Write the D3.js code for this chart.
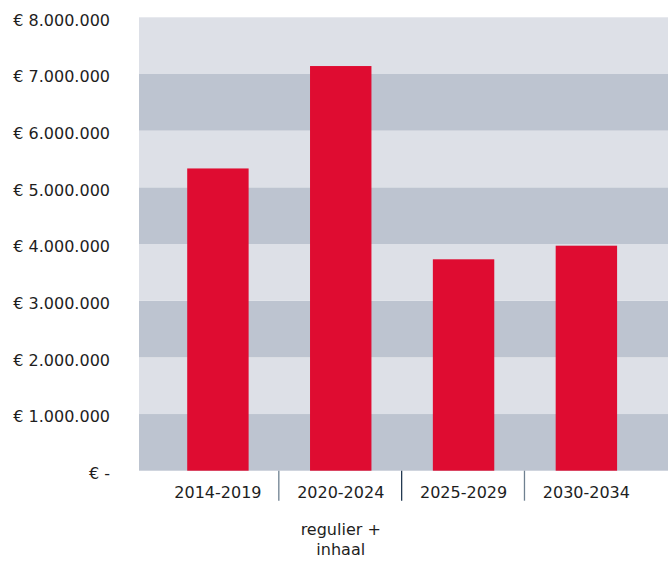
<!DOCTYPE html>
<html>
<head>
<meta charset="utf-8">
<script src="https://cdn.jsdelivr.net/npm/d3@7"></script>
<style>
  body { margin: 0; background: #fff; }
  text { font-family: "DejaVu Sans", sans-serif; fill: #1e1e1e; }
</style>
</head>
<body>
<main></main>
<script>
// chart data
const periods = ["2014-2019", "2020-2024", "2025-2029", "2030-2034"];
const amounts = [5333000, 7140000, 3730000, 3970000];
const subLabels = [null, ["regulier +", "inhaal"], null, null];
const yTicks = [0, 1000000, 2000000, 3000000, 4000000, 5000000, 6000000, 7000000, 8000000];
const yTickLabels = ["€ -", "€ 1.000.000", "€ 2.000.000", "€ 3.000.000", "€ 4.000.000",
                     "€ 5.000.000", "€ 6.000.000", "€ 7.000.000", "€ 8.000.000"];

const svgSize = { width: 668, height: 562 };
const plot = { left: 139, right: 668, top: 17.3, bottom: 470.7 };

const svg = d3.select("main")
  .append("svg")
  .attr("width", svgSize.width)
  .attr("height", svgSize.height);

const yScale = d3.scaleLinear()
  .domain([0, 8000000])
  .range([plot.bottom, plot.top]);

const xScale = d3.scaleBand()
  .domain(periods)
  .range([156.5, 647.8])
  .paddingInner(0)
  .paddingOuter(0);

// alternating bands
const bands = d3.pairs(yTicks);
svg.append("g")
  .selectAll("rect")
  .data(bands)
  .enter()
  .append("rect")
  .attr("x", plot.left)
  .attr("width", plot.right - plot.left)
  .attr("y", d => yScale(d[1]))
  .attr("height", d => yScale(d[0]) - yScale(d[1]))
  .attr("fill", (d, i) => i % 2 === 0 ? "#bdc4d0" : "#dde0e7");

// bars
const barW = xScale.bandwidth() * 0.5;
svg.append("g")
  .selectAll("rect")
  .data(amounts)
  .enter()
  .append("rect")
  .attr("x", (d, i) => xScale(periods[i]) + (xScale.bandwidth() - barW) / 2)
  .attr("width", barW)
  .attr("y", d => yScale(d))
  .attr("height", d => yScale(0) - yScale(d))
  .attr("fill", "#df0c31");

// y labels
svg.append("g")
  .selectAll("text")
  .data(yTicks)
  .enter()
  .append("text")
  .attr("x", 110)
  .attr("y", d => yScale(d) + 8.2)
  .attr("text-anchor", "end")
  .style("font-size", "16px")
  .text((d, i) => yTickLabels[i]);

// category separators
const sepColors = ["#6f8090", "#243a52", "#6f8090"];
svg.append("g")
  .selectAll("line")
  .data(periods.slice(1))
  .enter()
  .append("line")
  .attr("x1", d => xScale(d) - 0.5)
  .attr("x2", d => xScale(d) - 0.5)
  .attr("y1", plot.bottom)
  .attr("y2", plot.bottom + 30)
  .attr("stroke", (d, i) => sepColors[i])
  .attr("stroke-width", 1.3);

// category labels
svg.append("g")
  .selectAll("text")
  .data(periods)
  .enter()
  .append("text")
  .attr("x", d => xScale(d) + xScale.bandwidth() / 2)
  .attr("y", 498.3)
  .attr("text-anchor", "middle")
  .style("font-size", "16px")
  .text(d => d);

// sub labels
subLabels.forEach((lines, i) => {
  if (!lines) return;
  lines.forEach((t, j) => {
    svg.append("text")
      .attr("x", xScale(periods[i]) + xScale.bandwidth() / 2)
      .attr("y", 535 + j * 20)
      .attr("text-anchor", "middle")
      .style("font-size", "16px")
      .text(t);
  });
});
</script>
</body>
</html>
